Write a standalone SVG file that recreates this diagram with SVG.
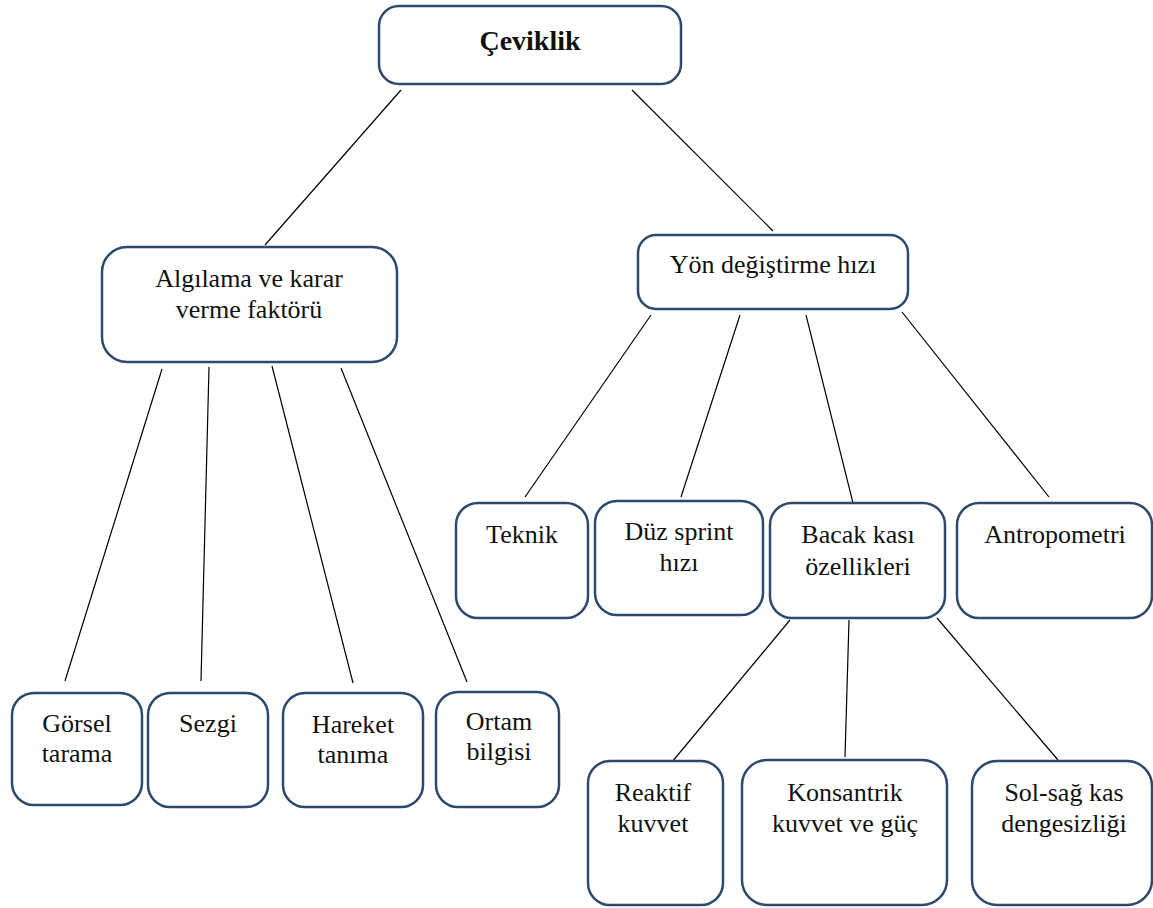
<svg xmlns="http://www.w3.org/2000/svg" width="1153" height="908" viewBox="0 0 1153 908">
<style>
.box{fill:#ffffff;stroke:#2d4a6d;stroke-width:2.5}
text{font-family:'Liberation Serif','Times New Roman',Tinos,'DejaVu Serif',serif;font-size:26px;fill:#111111;text-anchor:middle}
.b{font-weight:bold;font-size:28px}
.c line{stroke:#000000;stroke-width:1.2}
</style>
<rect width="1153" height="908" fill="#ffffff"/>
<g class="c" id="connectors">
<line x1="401" y1="90" x2="265" y2="245"/>
<line x1="632" y1="90" x2="773" y2="231"/>
<line x1="162" y1="369" x2="65" y2="681"/>
<line x1="209" y1="367" x2="201" y2="681"/>
<line x1="272" y1="366" x2="353" y2="683"/>
<line x1="341" y1="368" x2="467" y2="682"/>
<line x1="651" y1="315" x2="525" y2="497"/>
<line x1="740" y1="315" x2="681" y2="497"/>
<line x1="806" y1="315" x2="853" y2="503"/>
<line x1="902" y1="312" x2="1049" y2="497"/>
<line x1="790" y1="620" x2="672" y2="762"/>
<line x1="849" y1="620" x2="845" y2="757"/>
<line x1="937" y1="618" x2="1058" y2="760"/>
</g>
<g font-family="Liberation Serif, serif">
<g id="ceviklik"><rect class="box" x="379" y="6" width="302" height="78" rx="20"/><text class="b" x="530" y="50">Çeviklik</text></g>
<g id="algilama"><rect class="box" x="102" y="247" width="295" height="115" rx="25"/><text x="249" y="287">Algılama ve karar</text><text x="249" y="318">verme faktörü</text></g>
<g id="yon"><rect class="box" x="638" y="235" width="270" height="74" rx="18"/><text x="773" y="273">Yön değiştirme hızı</text></g>
<g id="teknik"><rect class="box" x="456" y="503" width="132" height="115" rx="22"/><text x="522" y="543">Teknik</text></g>
<g id="duz"><rect class="box" x="595" y="501" width="168" height="114" rx="22"/><text x="679" y="540">Düz sprint</text><text x="679" y="571">hızı</text></g>
<g id="bacak"><rect class="box" x="770" y="503" width="175" height="115" rx="22"/><text x="858" y="543">Bacak kası</text><text x="858" y="575">özellikleri</text></g>
<g id="antropometri"><rect class="box" x="957" y="503" width="195" height="115" rx="22"/><text x="1055" y="543">Antropometri</text></g>
<g id="gorsel"><rect class="box" x="12" y="693" width="130" height="112" rx="22"/><text x="77" y="732">Görsel</text><text x="77" y="762">tarama</text></g>
<g id="sezgi"><rect class="box" x="148" y="693" width="120" height="114" rx="22"/><text x="208" y="732">Sezgi</text></g>
<g id="hareket"><rect class="box" x="283" y="693" width="140" height="114" rx="22"/><text x="353" y="733">Hareket</text><text x="353" y="763">tanıma</text></g>
<g id="ortam"><rect class="box" x="436" y="692" width="123" height="115" rx="22"/><text x="499" y="730">Ortam</text><text x="499" y="760">bilgisi</text></g>
<g id="reaktif"><rect class="box" x="588" y="761" width="135" height="144" rx="22"/><text x="653" y="801">Reaktif</text><text x="653" y="832">kuvvet</text></g>
<g id="konsantrik"><rect class="box" x="742" y="760" width="205" height="145" rx="25"/><text x="845" y="801">Konsantrik</text><text x="845" y="832">kuvvet ve güç</text></g>
<g id="solsag"><rect class="box" x="972" y="761" width="180" height="144" rx="25"/><text x="1064" y="801">Sol-sağ kas</text><text x="1064" y="832">dengesizliği</text></g>
</g>
</svg>
